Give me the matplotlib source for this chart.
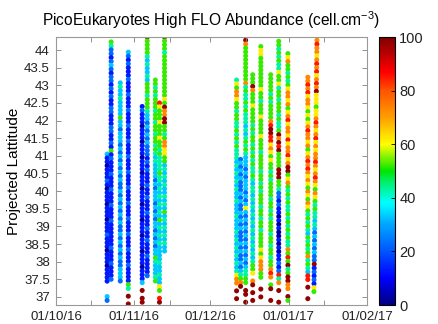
import numpy as np
import pandas as pd
import matplotlib
matplotlib.use("Agg")
import matplotlib.pyplot as plt
import matplotlib.dates as mdates
from matplotlib.colors import LinearSegmentedColormap
from matplotlib.ticker import MultipleLocator, FuncFormatter

plt.rcParams['font.family'] = ['Liberation Sans', 'DejaVu Sans']
plt.rcParams['mathtext.fontset'] = 'custom'
plt.rcParams['mathtext.rm'] = 'Liberation Sans'
plt.rcParams['mathtext.it'] = 'Liberation Sans:italic'

# abundance classes used in the sample strings below ('0'..'9', ' ' = no sample)
level_values = [3, 13, 23, 33, 43, 52, 62, 73, 85, 98]

# one entry per ship transect: start/end time, start/end latitude, samples north -> south
transect_start = [
    "2016-10-21 05:00", "2016-10-22 19:00", "2016-10-26 10:00", "2016-10-29 14:00",
    "2016-11-04 02:00", "2016-11-06 02:00", "2016-11-09 07:00", "2016-11-10 22:00",
    "2016-11-12 22:00",
    "2016-12-11 10:00", "2016-12-13 00:00", "2016-12-15 00:00", "2016-12-17 19:00",
    "2016-12-21 00:00", "2016-12-24 22:00", "2016-12-28 02:00", "2016-12-31 17:00",
    "2017-01-08 14:00", "2017-01-12 05:00",
]
transect_end = [
    "2016-10-21 05:00", "2016-10-22 19:00", "2016-10-26 10:00", "2016-10-29 14:00",
    "2016-11-04 02:00", "2016-11-06 02:00", "2016-11-09 07:00", "2016-11-10 22:00",
    "2016-11-12 22:00",
    "2016-12-11 10:00", "2016-12-13 00:00", "2016-12-15 00:00", "2016-12-17 19:00",
    "2016-12-21 00:00", "2016-12-24 22:00", "2016-12-28 02:00", "2016-12-31 17:00",
    "2017-01-08 14:00", "2017-01-11 00:00",
]
lat_north = [41.05, 44.23, 43.07, 43.94, 42.40, 44.37, 43.15, 42.50, 44.37,
             43.15, 40.90, 44.28, 43.30, 44.10, 43.30, 44.25, 43.90, 43.23, 44.28]
lat_south = [36.90, 37.50, 37.45, 36.80, 36.85, 37.60, 37.45, 36.85, 38.30,
             36.95, 37.30, 36.85, 36.90, 37.00, 36.90, 36.85, 36.90, 36.95, 37.15]
samples = [
    "3" "11011121011101110111211101110111" "1" "   " "32",
    "542212321221" "212112211" "12211215" "121112111211121112111111211121112",
    "3433433335" "3323332323" "2323232232" "3232323223" "232323223332",
    "3212111211" "1211121112" "1112111211" "1211121112" "1112111211" "121112111" "1" "54 9 9",
    "1211101110" "1110111011" "1011101110" "1110111011" "10111" "3 9 99",
    "9555543433" "4355545554" "3323232322" "2121211121" "1211121112" "1121112111" "12",
    "5545455545" "5455455454" "3433332323" "3323232332" "3232335433" "345",
    "8655565556" "5545444454" "4343434343" "5343434333" "3433433" "65" " " "89",
    "9555455555" "5555556597" "7995545776" "6553434343" "3434353434" "343433",
    "4657765545" "5445454544" "4343434343" "3433343334" "3434343434" "677 9 9",
    "2323232223" "2322323232" "2232322323" "4579",
    "9755555555" "5745445454" "4434345454" "3332323332" "3236323232" "3232323234" "455 99 9",
    "5559755565" "5554545545" "4545445434" "4343434343" "4343434345" "56 79 9 9",
    "5665555555" "5655455565" "5556555455" "5545545455" "5455455455" "5565677755" "  9 9",
    "5555545455" "5578998867" "6565545455" "5545545455" "5455455455" "787 59  9",
    "5545454465" "5645545554" "5445979895" "5559995542" "2121101010" "0101011212" "847 9  9",
    "5675545456" "7767567867" "7686778679" "9567545454" "4545454544" "7585945997" "7 95",
    "7787867765" "6567877675" "6787876765" "7657654545" "4354545745" "4388 9  9",
    "7877678786" "7879666566" "7876786767" "7876787657" "6545443432" "3232322912" "12165",
]

xs, ys, vs = [], [], []
for t0, t1, la0, la1, code in zip(transect_start, transect_end, lat_north, lat_south, samples):
    n = len(code)
    t = np.linspace(mdates.date2num(pd.Timestamp(t0)), mdates.date2num(pd.Timestamp(t1)), n)
    la = np.linspace(la0, la1, n)
    for i, ch in enumerate(code):
        if ch == ' ':
            continue
        xs.append(t[i])
        ys.append(la[i])
        vs.append(level_values[int(ch)])

cmap = LinearSegmentedColormap.from_list("abund", [
    (0.00, (0.0, 0.0, 0.50)),
    (0.10, (0.0, 0.0, 1.00)),
    (0.22, (0.0, 0.40, 1.00)),
    (0.30, (0.0, 0.65, 1.00)),
    (0.38, (0.0, 1.00, 1.00)),
    (0.45, (0.0, 0.95, 0.50)),
    (0.50, (0.0, 0.90, 0.00)),
    (0.60, (1.0, 1.00, 0.00)),
    (0.70, (1.0, 0.62, 0.00)),
    (0.80, (1.0, 0.33, 0.00)),
    (0.87, (1.0, 0.00, 0.00)),
    (1.00, (0.5, 0.00, 0.00)),
])

fig = plt.figure(figsize=(4.38, 3.24), dpi=100)
ax = fig.add_axes([0.1279, 0.0586, 0.7100, 0.8272])
sc = ax.scatter(xs, ys, c=vs, cmap=cmap, vmin=0, vmax=100, s=13, linewidths=0)

ax.set_xlim(mdates.date2num(pd.Timestamp("2016-10-01")), mdates.date2num(pd.Timestamp("2017-02-01")))
ax.set_ylim(36.77, 44.37)
ax.xaxis.set_major_locator(mdates.MonthLocator())
ax.xaxis.set_minor_locator(mdates.DayLocator(bymonthday=15))
ax.xaxis.set_major_formatter(mdates.DateFormatter('%d/%m/%y'))
ax.yaxis.set_major_locator(MultipleLocator(0.5))
ax.yaxis.set_major_formatter(FuncFormatter(lambda v, p: f'{v:g}'))
ax.tick_params(which='both', direction='in', top=True, right=True, length=3.5,
               width=0.6, color='#808080', labelsize=9.5, labelcolor='#222222')
ax.tick_params(axis='x', pad=4)
ax.tick_params(axis='y', pad=4.5)
for sp in ax.spines.values():
    sp.set_color('#999999')
    sp.set_linewidth(0.8)

ax.set_title('PicoEukaryotes High FLO Abundance (cell.cm$^{-3}$)', fontsize=11.2, pad=8)
ax.set_ylabel('Projected Lattitude', fontsize=11, labelpad=2)

cax = fig.add_axes([379 / 438, 0.0586, 16 / 438, 0.8272])
cb = fig.colorbar(sc, cax=cax)
cb.set_ticks([0, 20, 40, 60, 80, 100])
cax.tick_params(direction='in', length=3, width=0.6, labelsize=10.5, pad=3, labelcolor='#222222')
cb.outline.set_linewidth(0.8)

fig.savefig('out.png', dpi=100)
